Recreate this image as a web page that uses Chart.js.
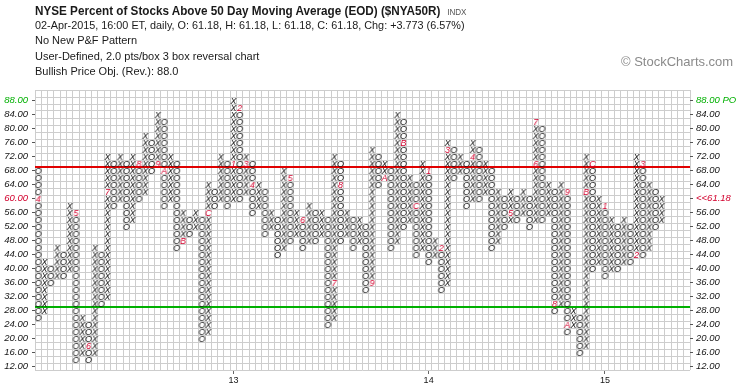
<!DOCTYPE html>
<html>
<head>
<meta charset="utf-8">
<title>$NYA50R P&amp;F</title>
<script src="https://cdn.jsdelivr.net/npm/chart.js@4.4.1/dist/chart.umd.min.js"></script>
<style>
  html, body { margin: 0; padding: 0; background: #fff; }
  #wrap { position: relative; width: 745px; height: 391px; overflow: hidden; }
  #pf { position: absolute; left: 0; top: 0; }
  .hd { position: absolute; left: 35px; white-space: nowrap; color: #1a1a1a; line-height: 1;
        font-family: "Liberation Sans", Arial, sans-serif; font-size: 11px; transform-origin: 0 0; }
</style>
</head>
<body>
<div id="wrap">
  <canvas id="pf" width="745" height="391"></canvas>
  <div class="hd" style="top:4px;font-size:13px;font-weight:bold;transform:scaleX(0.9)">NYSE Percent of Stocks Above 50 Day Moving Average (EOD) ($NYA50R) <span style="font-size:9px;font-weight:normal;color:#555;margin-left:4px">INDX</span></div>
  <div class="hd" style="top:20px;transform:scaleX(0.985)">02-Apr-2015, 16:00 ET, daily, O: 61.18, H: 61.18, L: 61.18, C: 61.18, Chg: +3.773 (6.57%)</div>
  <div class="hd" style="top:35px">No New P&amp;F Pattern</div>
  <div class="hd" style="top:51px">User-Defined, 2.0 pts/box 3 box reversal chart</div>
  <div class="hd" style="top:66px">Bullish Price Obj. (Rev.): 88.0</div>
  <div class="hd" style="left:621px;top:55px;font-size:13px;color:#8a8a8a">© StockCharts.com</div>
</div>
<script>
// point & figure: 2 pts/box, 3 box reversal
const boxSize = 2;
const yLow = 12, yHigh = 90;
const gridCols = 104;

// one entry per column, left to right (O, X alternate)
const colType = "OXOXOXOXOXOXOXOXOXOXOXOXOXOXOXOXOXOXOXOXOXOXOXOXOXOXOXOXOXOXOXOXOXOXOXOXOXOXOXOXOXOXOXOXOXOXOXOXOXOX".split("");
const colLow  = [26,28,36,38,38,40,14,16,14,16, 30,32,58,60,52,54,60,62,68,70, 58,60,46,48,50,52,20,22,58,60,
                 58,60,60,62,56,58,50,52,44,46, 48,50,46,48,48,50,24,26,48,50, 46,48,34,36,64,66,46,48,52,54,
                 44,46,42,44,34,36,66,68,58,60, 60,62,46,48,52,54,54,56,52,54, 54,56,28,30,22,24,16,18,40,42,
                 38,40,40,42,42,44,44,46,52,54];
const colHigh = [68,42,40,46,44,58,56,26,24,46, 44,72,70,72,70,72,70,78,76,84, 82,72,70,56,54,56,54,64,62,72,
                 70,88,86,72,70,64,62,56,54,68, 66,56,54,58,56,56,54,72,70,56, 54,54,52,74,72,70,68,84,82,66,
                 64,70,68,48,46,76,74,72,70,76, 74,70,68,62,60,62,60,62,60,82, 80,64,62,64,62,28,26,72,70,60,
                 58,54,52,54,52,72,70,64,62,60];

// month markers (1-9, A-C) that take the place of a box
const markCol  = [0,6,8,11,16,19,20,23,27, 31,32,33,34,40,42,47,48,53,55,58,60, 62,64,65,69,75,79,79,82,84,84,87,88, 90,95,96];
const markBox  = [60,56,18,62,70,70,68,48,56, 70,86,70,64,66,54,36,64,36,66,76,58, 68,46,74,72,56,70,82,30,62,24,62,70, 58,44,70];
const markText = ["4","5","6","7","8","9","A","B","C", "1","2","3","4","5","6","7","8","9","A","B","C",
                  "1","2","3","4","5","6","7","8","9","A","B","C", "1","2","3"];

const yearCol  = [31, 62, 90];
const yearText = ["13", "14", "15"];

const lastClose = "61.18", lastBox = 60, priceObjective = 88;
const upperLevel = 69, lowerLevel = 29;

const ink = "#151515", gridInk = "#cdcdcd", red = "#d2002d", redLine = "#e00000", green = "#00b000";

function glyph(ch, color) {
  const c = document.createElement("canvas");
  c.width = 9; c.height = 9;
  const g = c.getContext("2d");
  g.font = 'italic 9px "Liberation Sans", Arial, sans-serif';
  g.fillStyle = color;
  g.textAlign = "center";
  g.textBaseline = "alphabetic";
  g.fillText(ch, 4.5, 8);
  return c;
}

const markAt = {};
markCol.forEach((c, k) => { markAt[c + ":" + markBox[k]] = markText[k]; });

const xPts = [], oPts = [];
colType.forEach((t, i) => {
  for (let v = colLow[i]; v <= colHigh[i]; v += boxSize) {
    if (markAt[i + ":" + v]) continue;
    (t === "X" ? xPts : oPts).push({ x: i, y: v });
  }
});
const markPts = markCol.map((c, k) => ({ x: c, y: markBox[k] }));
const markImgs = {};
markText.forEach(t => { if (!markImgs[t]) markImgs[t] = glyph(t, red); });
const markStyles = markText.map(t => markImgs[t]);

const tickFont = { family: '"Liberation Sans", Arial, sans-serif', size: 9.5, style: "italic" };
const xMin = -0.5, xMax = gridCols - 0.5, yMin = yLow - 1, yMax = yHigh + 1;

function evenTicks(s) { s.ticks = []; for (let v = yLow; v <= yHigh; v += boxSize) s.ticks.push({ value: v }); }
function boxEdges(s) { s.ticks = []; for (let v = yMin; v <= yMax; v += boxSize) s.ticks.push({ value: v }); }
function colEdges(s) { s.ticks = []; for (let i = 0; i <= gridCols; i++) s.ticks.push({ value: i - 0.5 }); }
function labelColor(v) {
  if (v === priceObjective) return green;
  if (v === lastBox) return red;
  return ink;
}

new Chart(document.getElementById("pf"), {
  type: "scatter",
  data: {
    datasets: [
      { data: markPts, pointStyle: markStyles },
      { data: xPts, pointStyle: glyph("X", ink) },
      { data: oPts, pointStyle: glyph("O", ink) },
      { type: "line", data: [{ x: xMin, y: upperLevel }, { x: xMax, y: upperLevel }], borderColor: redLine, borderWidth: 2, pointRadius: 0, order: 5 },
      { type: "line", data: [{ x: xMin, y: lowerLevel }, { x: xMax, y: lowerLevel }], borderColor: green, borderWidth: 2, pointRadius: 0, order: 5 },
    ],
  },
  options: {
    responsive: false, animation: false, devicePixelRatio: 1, events: [],
    layout: { padding: { top: 90, left: 0, right: 0, bottom: 0 } },
    plugins: { legend: { display: false }, tooltip: { enabled: false } },
    scales: {
      x: { type: "linear", min: xMin, max: xMax, afterBuildTicks: colEdges,
           grid: { color: gridInk, drawTicks: false }, border: { display: false }, ticks: { display: false },
           afterFit: (s) => { s.height = 0; } },
      yr: { type: "linear", position: "bottom", min: xMin, max: xMax,
            afterBuildTicks: (s) => { s.ticks = yearCol.map((v) => ({ value: v })); },
            grid: { drawOnChartArea: false, drawTicks: true, tickLength: 4, color: "#666" }, border: { display: false },
            ticks: { autoSkip: false, maxRotation: 0, padding: 1, color: ink, font: { family: '"Liberation Sans", Arial, sans-serif', size: 9 },
                     callback: (v, i) => yearText[i] },
            afterFit: (s) => { s.height = 21; } },
      yb: { type: "linear", position: "left", min: yMin, max: yMax, afterBuildTicks: boxEdges,
            grid: { color: gridInk, drawTicks: false }, border: { display: false }, ticks: { display: false },
            afterFit: (s) => { s.width = 0; } },
      y: { type: "linear", position: "left", min: yMin, max: yMax, afterBuildTicks: evenTicks,
           grid: { drawOnChartArea: false, drawTicks: true, tickLength: 3, color: "#555" }, border: { display: false },
           ticks: { font: tickFont, padding: 4, color: (c) => labelColor(c.tick.value), callback: (v) => v.toFixed(2) },
           afterFit: (s) => { s.width = 35; } },
      y2: { type: "linear", position: "right", min: yMin, max: yMax, afterBuildTicks: evenTicks,
            grid: { drawOnChartArea: false, drawTicks: true, tickLength: 3, color: "#555" }, border: { display: false },
            ticks: { font: tickFont, padding: 3, color: (c) => labelColor(c.tick.value),
                     callback: (v) => v === priceObjective ? v.toFixed(2) + " PO" : v === lastBox ? "<<" + lastClose : v.toFixed(2) },
            afterFit: (s) => { s.width = 55; } },
    },
  },
});
</script>
</body>
</html>
